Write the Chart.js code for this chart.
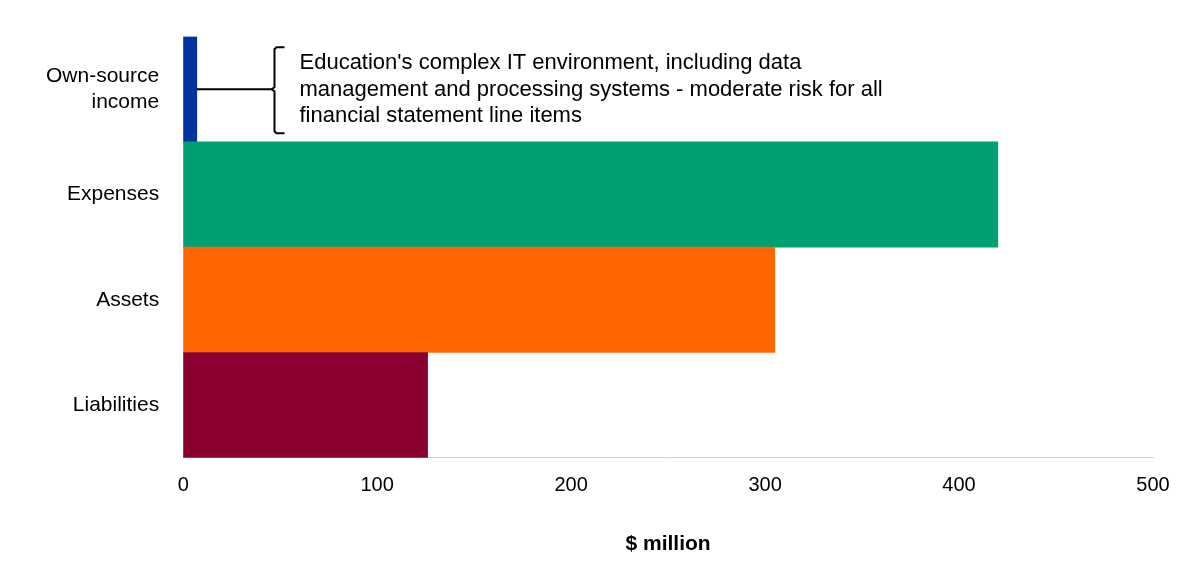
<!DOCTYPE html>
<html>
<head>
<meta charset="utf-8">
<script src="https://cdn.jsdelivr.net/npm/chart.js@4/dist/chart.umd.min.js"></script>
<style>
  body { margin: 0; background: #fff; }
  #wrap { width: 1200px; height: 571px; }
</style>
</head>
<body>
<div id="wrap"><canvas id="myChart"></canvas></div>
<script>
const categories = [['Own-source', 'income'], 'Expenses', 'Assets', 'Liabilities'];
const values = [7, 420, 305, 126];
const barColours = ['#0033a0', '#00a073', '#ff6600', '#8a0030'];
const noteLines = [
    "Education's complex IT environment, including data",
    'management and processing systems - moderate risk for all',
    'financial statement line items'
];

// Bracket + text note pointing at the first bar
const notePlugin = {
    id: 'note',
    afterDatasetsDraw(chart) {
        const c = chart.ctx;
        const x = chart.scales.x, y = chart.scales.y;
        const bar = chart.getDatasetMeta(0).data[0];
        const yc = y.getPixelForValue(0);
        const bx = x.getPixelForValue(45);
        c.save();
        c.strokeStyle = '#000';
        c.lineWidth = 2;
        c.beginPath();
        c.moveTo(bar.x, yc);
        c.lineTo(bx + 2, yc);
        c.stroke();
        c.beginPath();
        c.moveTo(bx + 14, yc - 42);
        c.lineTo(bx + 6, yc - 42);
        c.lineTo(bx + 4, yc - 40);
        c.lineTo(bx + 4, yc - 2);
        c.lineTo(bx + 1, yc);
        c.lineTo(bx + 4, yc + 2);
        c.lineTo(bx + 4, yc + 42);
        c.lineTo(bx + 6, yc + 44);
        c.lineTo(bx + 14, yc + 44);
        c.stroke();
        c.fillStyle = '#000';
        c.font = '22px "Liberation Sans", Arial, sans-serif';
        c.textBaseline = 'middle';
        noteLines.forEach((t, i) => c.fillText(t, bx + 29, yc - 26 + i * 26.5));
        c.restore();
    }
};

new Chart(document.getElementById('myChart').getContext('2d'), {
    type: 'bar',
    data: {
        labels: categories,
        datasets: [{
            data: values,
            backgroundColor: barColours,
            barPercentage: 1,
            categoryPercentage: 1
        }]
    },
    options: {
        indexAxis: 'y',
        responsive: true,
        maintainAspectRatio: false,
        animation: false,
        layout: { padding: { top: 3, right: 47, left: 22, bottom: 10 } },
        plugins: { legend: { display: false }, tooltip: { enabled: false } },
        scales: {
            x: {
                min: 0, max: 500,
                ticks: { stepSize: 100, color: '#000', padding: 16, font: { family: 'Liberation Sans', size: 20 } },
                grid: { display: false, drawTicks: false },
                border: { color: '#d0d0d0', width: 1 },
                title: { display: true, text: '$ million', color: '#000', padding: { top: 18 }, font: { family: 'Liberation Sans', size: 21, weight: 'bold' } }
            },
            y: {
                ticks: { color: '#000', padding: 24, font: { family: 'Liberation Sans', size: 21 } },
                grid: { display: false, drawTicks: false },
                border: { display: false }
            }
        }
    },
    plugins: [notePlugin]
});
</script>
</body>
</html>
